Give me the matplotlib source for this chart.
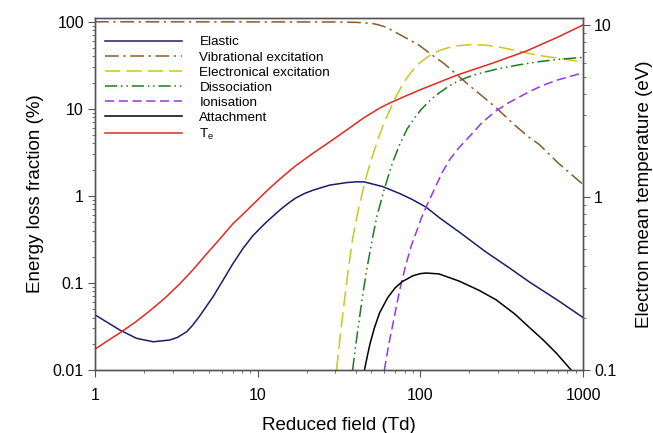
import numpy as np
import matplotlib
matplotlib.use("Agg")
import matplotlib.pyplot as plt
from matplotlib.ticker import FixedLocator, LogLocator, NullFormatter, FuncFormatter

plt.rcParams['font.family'] = ['Liberation Sans', 'DejaVu Sans']

# energy loss fractions (%) vs reduced field (Td)
elastic_x = [1, 1.42, 1.8, 2.28, 2.88, 3.2, 3.66, 4.0, 4.41, 5.32, 6.13, 7.06, 8.13, 9.35, 10.8, 11.7, 13.7,
             15.5, 17.2, 19.5, 21.8, 27.7, 35, 40, 45, 58.5, 75, 90, 108.6, 131, 173, 250, 350, 466, 700, 1000]
elastic_y = [0.043, 0.0288, 0.0231, 0.0211, 0.0221, 0.0236, 0.0275, 0.033, 0.042, 0.0697, 0.108, 0.168, 0.25,
             0.35, 0.46, 0.53, 0.69, 0.83, 0.95, 1.07, 1.16, 1.33, 1.42, 1.45, 1.45, 1.28, 1.06, 0.90, 0.74,
             0.56, 0.385, 0.23, 0.15, 0.103, 0.063, 0.040]

vib_x = [1, 30, 40, 50, 55, 60, 65, 71, 85, 98.6, 113, 140, 168, 200, 240, 297, 380, 466, 537, 700, 1000]
vib_y = [100, 99.5, 98.5, 96, 92.5, 88, 82, 75, 62.5, 53.5, 44, 33, 24.6, 18.5, 14, 10, 6.5, 4.7, 3.9, 2.4, 1.35]

elec_x = [30.5, 32, 34.2, 36, 38.3, 41, 44, 47, 50.8, 56, 60, 64.5, 71, 80, 89.3, 98.6, 113, 131,
          160, 200, 250, 318, 402, 515, 710, 1000]
elec_y = [0.01, 0.023, 0.065, 0.14, 0.32, 0.62, 1.1, 1.8, 2.9, 5.0, 7.0, 9.5, 14, 21, 27.5, 33.5, 40.5, 47,
          52.5, 54.5, 54, 50.5, 46, 41.5, 38, 34.5]

diss_x = [38.3, 40, 42, 44, 47, 50.8, 54, 60, 67.3, 75, 83, 91.8, 100, 110, 120, 131, 150, 168, 200, 230,
          292, 402, 515, 700, 1000]
diss_y = [0.01, 0.019, 0.037, 0.069, 0.15, 0.33, 0.58, 1.2, 2.4, 4.0, 5.9, 7.8, 9.6, 11.6, 13.5, 15.3, 18.3, 20.6,
          23.5, 25.5, 28.5, 32, 34.5, 37, 39]

ion_x = [60, 64, 68, 72, 76.3, 82, 88, 95.6, 101, 108.6, 113, 122, 136, 151, 173, 200, 240, 292,
         350, 466, 560, 700, 1000]
ion_y = [0.01, 0.02, 0.035, 0.06, 0.1, 0.17, 0.27, 0.41, 0.55, 0.75, 0.88, 1.2, 1.85, 2.6, 3.6, 4.8, 7.0, 9.5,
         11.8, 15.7, 18.5, 21.5, 26]

att_x = [45.3, 47, 49, 52, 56, 63, 70, 77.6, 90, 100, 108.6, 130, 173, 230, 292, 380, 466, 570, 683, 844]
att_y = [0.01, 0.014, 0.02, 0.03, 0.045, 0.068, 0.088, 0.104, 0.121, 0.128, 0.13, 0.127, 0.105, 0.082, 0.064,
         0.044, 0.031, 0.022, 0.0157, 0.01]

# electron mean temperature (eV)
te_x = [1, 1.2, 1.42, 1.75, 2.17, 2.7, 3.32, 4.0, 4.94, 5.9, 7.0, 8.56, 10, 11.7, 13.7, 17, 21.8, 27.7, 35,
        45, 56, 64.5, 80, 98.6, 168, 277, 448, 700, 1000]
te_y = [0.132, 0.148, 0.164, 0.188, 0.22, 0.262, 0.316, 0.381, 0.48, 0.58, 0.70, 0.84, 0.97, 1.12, 1.28, 1.52,
        1.80, 2.1, 2.45, 2.9, 3.29, 3.52, 3.85, 4.19, 5.12, 6.0, 7.06, 8.5, 10]

fig = plt.figure(figsize=(6.53, 4.33), dpi=100)
ax = fig.add_axes([0.1455, 0.1455, 0.7475, 0.8125])
ax2 = ax.twinx()

lw = 1.1
h1, = ax.plot(elastic_x, elastic_y, color="#1c1c6b", lw=lw, label="Elastic")
h2, = ax.plot(vib_x, vib_y, color="#8b5a2b", lw=lw, dashes=(9, 3, 1.5, 3), label="Vibrational excitation")
h3, = ax.plot(elec_x, elec_y, color="#c8c81e", lw=lw, dashes=(10, 4), label="Electronical excitation")
h4, = ax.plot(diss_x, diss_y, color="#1e7a1e", lw=lw, dashes=(8, 2.5, 1, 2.5, 1, 2.5), label="Dissociation")
h5, = ax.plot(ion_x, ion_y, color="#9933ee", lw=lw, dashes=(6, 3), label="Ionisation")
h6, = ax.plot(att_x, att_y, color="black", lw=lw, label="Attachment")
h7, = ax2.plot(te_x, te_y, color="#e32822", lw=lw, label=r"T$_\mathregular{e}$")

ax.set_xscale("log")
ax.set_yscale("log")
ax2.set_yscale("log")
ax.set_xlim(1, 1000)
ax.set_ylim(0.01, 110)
ax2.set_ylim(0.1, 10.94)

fmt = FuncFormatter(lambda v, p: "%g" % v)
ax.xaxis.set_major_locator(FixedLocator([1, 10, 100, 1000]))
ax.yaxis.set_major_locator(FixedLocator([0.01, 0.1, 1, 10, 100]))
ax2.yaxis.set_major_locator(FixedLocator([0.1, 1, 10]))
for a in (ax.xaxis, ax.yaxis, ax2.yaxis):
    a.set_major_formatter(fmt)
    a.set_minor_locator(LogLocator(base=10, subs=np.arange(2, 10)))
    a.set_minor_formatter(NullFormatter())

spine_c = "#555555"
for a in (ax, ax2):
    for s in a.spines.values():
        s.set_color(spine_c)
        s.set_linewidth(1.0)
    a.tick_params(which="major", direction="out", length=5, color=spine_c, labelsize=11.5, pad=3)
    a.tick_params(which="minor", direction="out", length=2.5, color=spine_c)
ax.tick_params(axis="x", which="major", pad=8)

ax.set_xlabel("Reduced field (Td)", fontsize=13.5, labelpad=10)
ax.set_ylabel("Energy loss fraction (%)", fontsize=13.5, labelpad=6)
ax2.set_ylabel("Electron mean temperature (eV)", fontsize=13.5, labelpad=14)

leg = ax2.legend(handles=[h1, h2, h3, h4, h5, h6, h7], loc="upper left",
                 bbox_to_anchor=(0.0, 0.978), frameon=False, fontsize=9.7,
                 handlelength=5.7, handletextpad=1.3, labelspacing=0.2, borderaxespad=0.35)

fig.savefig("out.png", dpi=100)
